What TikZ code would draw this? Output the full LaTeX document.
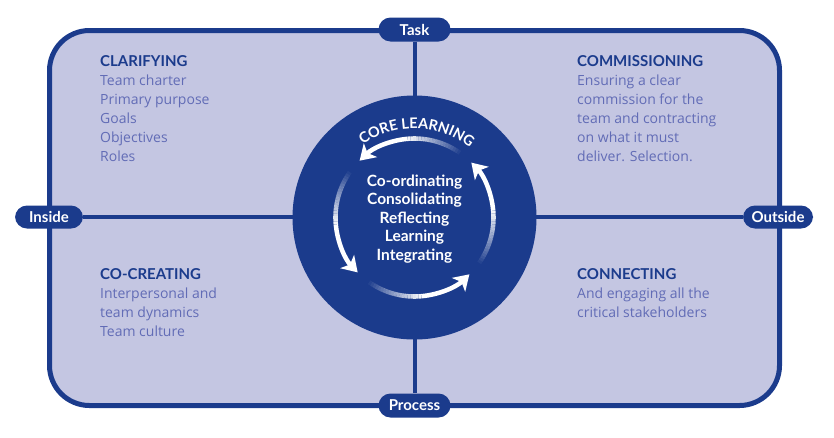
\documentclass[tikz,border=0pt]{standalone}
\usepackage{fontspec}
\setmainfont{Lato}
\newfontfamily\bodyfont{Open Sans}
\usetikzlibrary{calc,arrows.meta,decorations.text}
\definecolor{navy}{RGB}{27,59,140}
\definecolor{lav}{RGB}{196,198,226}
\definecolor{bodytxt}{RGB}{98,108,182}
\tikzset{
  pill/.style={fill=navy, text=white, rounded corners=12pt, minimum width=72pt, minimum height=24pt, inner sep=0pt, font=\fontsize{15}{15}\selectfont\bfseries},
  quad/.style={anchor=north west, inner sep=0pt, align=left, text=bodytxt, font=\bodyfont\fontsize{14}{19}\selectfont},
  cross/.style={draw=navy, line width=4pt},
  arrowline/.style={draw=white, line width=4.5pt}
}
\newcommand{\qhead}[1]{\textcolor{navy}{\fontsize{15}{19}\selectfont\rmfamily\bfseries #1}}
\begin{document}
\begin{tikzpicture}[x=1pt,y=-1pt]
\useasboundingbox (0,0) rectangle (834,437);
\draw[line width=5pt, draw=navy, fill=lav, rounded corners=40pt] (49.5,30.5) rectangle (779.5,405.5);
\coordinate (c) at (414.5,217.5);
\node[pill] (task) at (414.5,29.5) {Task};
\node[pill] (process) at (414.5,405.5) {Process};
\node[pill, minimum width=68pt, minimum height=23pt] (inside) at (49,217) {Inside};
\node[pill, minimum width=70pt, minimum height=23pt] (outside) at (778,217) {Outside};
\draw[cross] (task.south) -- (process.north);
\draw[cross] (inside.east) -- (outside.west);
\fill[navy] (c) circle[radius=122pt];
% fading arrows
\foreach \k in {0,1,2,3} {
  \pgfmathsetmacro\a{55+90*\k}
  \foreach \i in {0,...,19} {
    \pgfmathsetmacro\op{(\i+1)/21}
    \pgfmathsetmacro\s{\a+2*\i}
    \pgfmathsetmacro\e{\a+2*\i+2}
    \draw[arrowline, opacity=\op] ($(c)+(\s:79pt)$) arc[start angle=\s, end angle=\e, radius=79pt];
  }
  \pgfmathsetmacro\s{\a+40}
  \pgfmathsetmacro\e{\a+79}
  \draw[arrowline, -{Stealth[length=15pt, width=19pt, inset=4pt]}] ($(c)+(\s:79pt)$) arc[start angle=\s, end angle=\e, radius=79pt];
}
\path[decorate, decoration={text along path, text color=white, text align=center,
  text={|\fontsize{14.5}{14.5}\selectfont\bfseries|CORE LEARNING}}]
  ($(c)+(150:89pt)$) arc[start angle=150, end angle=27, radius=89pt];
\node[text=white, align=center, font=\fontsize{15.5}{18.5}\selectfont\bfseries] (core) at (414.5,219)
  {Co-ordinating\\Consolidating\\Reflecting\\Learning\\Integrating};
\node[quad] (clar) at (100,55) {\qhead{CLARIFYING}\\Team charter\\Primary purpose\\Goals\\Objectives\\Roles};
\node[quad] (comm) at (577,55) {\qhead{COMMISSIONING}\\Ensuring a clear\\commission for the\\team and contracting\\on what it must\\deliver. Selection.};
\node[quad] (cocr) at (100,268) {\qhead{CO-CREATING}\\Interpersonal and\\team dynamics\\Team culture};
\node[quad] (conn) at (577,268) {\qhead{CONNECTING}\\And engaging all the\\critical stakeholders};
\end{tikzpicture}
\end{document}
